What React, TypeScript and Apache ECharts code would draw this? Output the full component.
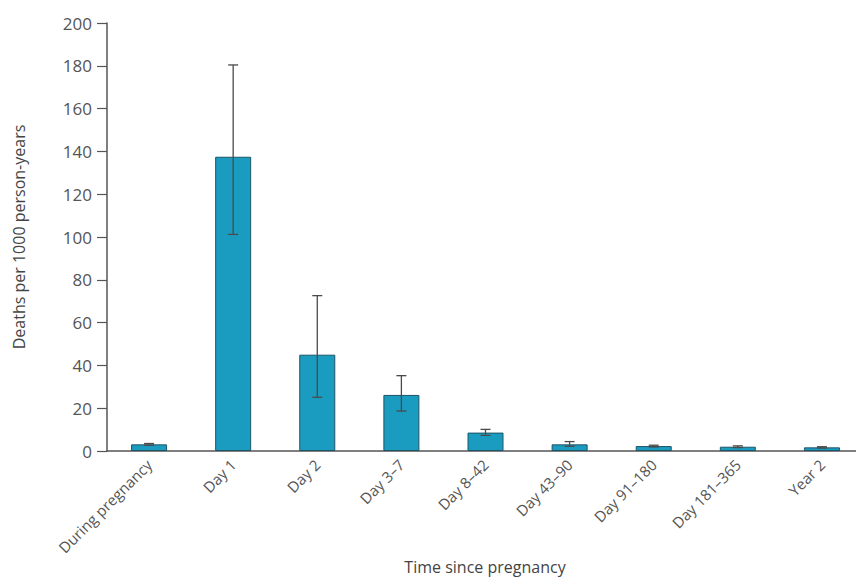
import React, { useEffect, useRef } from "react";
import * as echarts from "echarts";

const categories = [
  "During pregnancy",
  "Day 1",
  "Day 2",
  "Day 3–7",
  "Day 8–42",
  "Day 43–90",
  "Day 91–180",
  "Day 181–365",
  "Year 2",
];
const rates = [3.1, 137.5, 45.0, 26.2, 8.6, 3.1, 2.3, 2.0, 1.7];
const lowerCI = [2.7, 101.2, 25.1, 18.7, 7.3, 2.2, 1.9, 1.6, 1.4];
const upperCI = [3.5, 180.4, 72.6, 35.2, 10.1, 4.4, 2.7, 2.4, 2.0];
const yTicks = [0, 20, 40, 60, 80, 100, 120, 140, 160, 180, 200];
const xTitle = "Time since pregnancy";

const FONT = "'Open Sans', 'Noto Sans', sans-serif";

export default function App() {
  const ref = useRef<HTMLDivElement>(null);
  useEffect(() => {
    if (!ref.current) return;
    const chart = echarts.init(ref.current, null, { renderer: "svg" });
    const errData = categories.map((_, i) => [i, lowerCI[i], upperCI[i]]);
    chart.setOption({
      animation: false,
      backgroundColor: "#ffffff",
      grid: {
        left: 107,
        top: 23,
        width: 757,
        height: 428,
        containLabel: false,
        outerBoundsMode: "none",
      },
      graphic: [
        {
          type: "text",
          x: 485,
          y: 567,
          style: {
            text: xTitle,
            fontFamily: FONT,
            fontSize: 16,
            fill: "#444",
            textAlign: "center",
            textVerticalAlign: "middle",
          },
        },
      ],
      xAxis: {
        type: "category",
        data: categories,
        axisLine: { lineStyle: { color: "#555", width: 1.5 } },
        axisTick: { show: false },
        axisLabel: {
          rotate: 45,
          interval: 0,
          margin: 11,
          fontFamily: FONT,
          fontSize: 15,
          color: "#555",
        },
      },
      yAxis: {
        type: "value",
        min: 0,
        max: 200,
        interval: 20,
        name: "Deaths per 1000 person-years",
        nameLocation: "middle",
        nameGap: 80,
        nameRotate: 90,
        nameTextStyle: { fontFamily: FONT, fontSize: 16, color: "#444" },
        axisLine: { show: true, lineStyle: { color: "#555", width: 1.5 } },
        axisTick: { show: true, length: 10, lineStyle: { color: "#555", width: 1.2 } },
        splitLine: { show: false },
        axisLabel: {
          fontFamily: FONT,
          fontSize: 17,
          color: "#555",
          margin: 15,
          formatter: (v: number) => (yTicks.includes(v) ? String(v) : ""),
        },
      },
      series: [
        {
          type: "bar",
          data: rates,
          barWidth: 36,
          itemStyle: { color: "#1a9cc0", borderColor: "#1e5466", borderWidth: 1 },
        },
        {
          type: "custom",
          data: errData,
          z: 10,
          renderItem: (params: any, api: any) => {
            const x = api.value(0);
            const lo = api.coord([x, api.value(1)]);
            const hi = api.coord([x, api.value(2)]);
            const cap = 5;
            const style = { stroke: "#4a4a4a", lineWidth: 1.3 };
            return {
              type: "group",
              children: [
                { type: "line", shape: { x1: lo[0], y1: lo[1], x2: hi[0], y2: hi[1] }, style },
                { type: "line", shape: { x1: hi[0] - cap, y1: hi[1], x2: hi[0] + cap, y2: hi[1] }, style },
                { type: "line", shape: { x1: lo[0] - cap, y1: lo[1], x2: lo[0] + cap, y2: lo[1] }, style },
              ],
            };
          },
        },
      ],
    });
    return () => chart.dispose();
  }, []);
  return (
    <div
      ref={ref}
      style={{ position: "fixed", left: 0, top: 0, width: 856, height: 578, background: "#fff" }}
    />
  );
}
